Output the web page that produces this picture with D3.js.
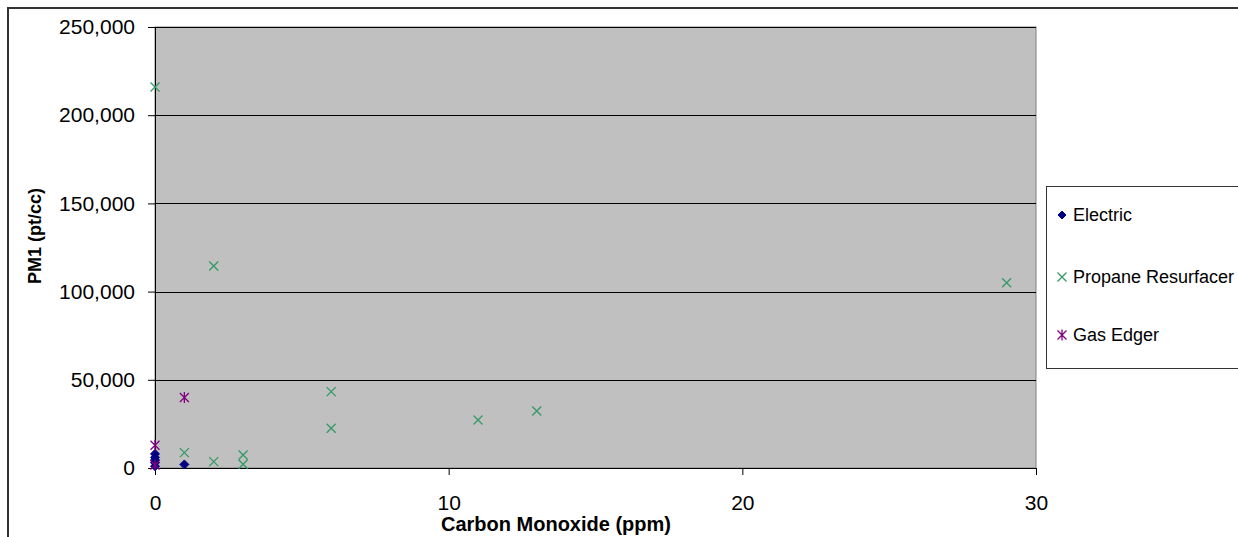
<!DOCTYPE html>
<html>
<head>
<meta charset="utf-8">
<script src="https://cdn.jsdelivr.net/npm/d3@7"></script>
<style>
  body { margin: 0; background: #fff; }
  text { font-family: "Liberation Sans", Arial, sans-serif; fill: #000; }
</style>
</head>
<body>
<div id="chart"></div>
<script>
// Data
var electricCO = [0, 0, 0, 0, 0, 1];
var electricPM = [8000, 6000, 4500, 3000, 1000, 2000];

var propaneCO = [0, 2, 29, 6, 6, 11, 13, 1, 2, 3, 3];
var propanePM = [216000, 114500, 105000, 43300, 22500, 27200, 32300, 8700, 3600, 7400, 2100];

var gasCO = [1, 0, 0];
var gasPM = [40000, 12900, 1700];

var seriesNames = ["Electric", "Propane Resurfacer", "Gas Edger"];
var xTicks = [0, 10, 20, 30];
var yTicks = [0, 50000, 100000, 150000, 200000, 250000];

var svgWidth = 1238;
var svgHeight = 537;

var plot = { left: 155, right: 1036, top: 27, bottom: 468 };

var svg = d3.select("#chart")
  .append("svg")
  .attr("width", svgWidth)
  .attr("height", svgHeight);

// outer chart area border
svg.append("rect")
  .attr("x", 8)
  .attr("y", 8)
  .attr("width", svgWidth + 20)
  .attr("height", svgHeight + 20)
  .attr("fill", "#fff")
  .attr("stroke", "#333")
  .attr("stroke-width", 2);

var xScale = d3.scaleLinear().domain([0, 30]).range([plot.left, plot.right]);
var yScale = d3.scaleLinear().domain([0, 250000]).range([plot.bottom, plot.top]);

// plot area
svg.append("rect")
  .attr("x", plot.left)
  .attr("y", plot.top)
  .attr("width", plot.right - plot.left)
  .attr("height", plot.bottom - plot.top)
  .attr("fill", "#c0c0c0")
  .attr("stroke", "#808080")
  .attr("stroke-width", 1);

// gridlines
svg.append("g")
  .selectAll("line")
  .data(yTicks.filter(d => d > 0))
  .enter()
  .append("line")
  .attr("x1", plot.left)
  .attr("x2", plot.right)
  .attr("y1", d => Math.round(yScale(d)) + 0.5)
  .attr("y2", d => Math.round(yScale(d)) + 0.5)
  .attr("stroke", "#000")
  .attr("stroke-width", 1);

// axes
var leftAxis = d3.axisLeft(yScale)
  .tickValues(yTicks)
  .tickFormat(d3.format(","))
  .tickSizeInner(7)
  .tickSizeOuter(0)
  .tickPadding(13);

var bottomAxis = d3.axisBottom(xScale)
  .tickValues(xTicks)
  .tickSizeInner(7)
  .tickSizeOuter(0)
  .tickPadding(20);

var yAxisG = svg.append("g")
  .attr("transform", `translate(${plot.left}, 0)`)
  .call(leftAxis);

var xAxisG = svg.append("g")
  .attr("transform", `translate(0, ${plot.bottom})`)
  .call(bottomAxis);

[yAxisG, xAxisG].forEach(function(g) {
  g.selectAll("path").attr("stroke", "#000");
  g.selectAll("line").attr("stroke", "#000");
  g.selectAll("text")
    .attr("font-family", "Liberation Sans, Arial, sans-serif")
    .attr("font-size", "21px")
    .attr("fill", "#000");
});

// marker shapes
function diamondPath(r) {
  return `M0,${-r}L${r},0L0,${r}L${-r},0Z`;
}
function xPath(r) {
  return `M${-r},${-r}L${r},${r}M${-r},${r}L${r},${-r}`;
}
function asteriskPath(r) {
  return xPath(r) + `M0,${-r - 1}L0,${r + 1}`;
}

function drawSeries(co, pm, path, color, filled) {
  var pts = co.map((c, i) => ({ x: c, y: pm[i] }));
  svg.append("g")
    .selectAll("path")
    .data(pts)
    .enter()
    .append("path")
    .attr("transform", d => `translate(${xScale(d.x)}, ${yScale(d.y)})`)
    .attr("d", path)
    .attr("fill", filled ? color : "none")
    .attr("stroke", color)
    .attr("stroke-width", filled ? 1 : 1.3);
}

var colors = ["#000080", "#339966", "#800080"];

drawSeries(electricCO, electricPM, diamondPath(4.5), colors[0], true);
drawSeries(propaneCO, propanePM, xPath(4.5), colors[1], false);
drawSeries(gasCO, gasPM, asteriskPath(4.5), colors[2], false);

// axis titles
svg.append("text")
  .attr("x", 556)
  .attr("y", 531)
  .attr("text-anchor", "middle")
  .attr("font-weight", "bold")
  .attr("font-size", "20px")
  .text("Carbon Monoxide (ppm)");

svg.append("text")
  .attr("transform", "translate(41, 236) rotate(-90)")
  .attr("text-anchor", "middle")
  .attr("font-weight", "bold")
  .attr("font-size", "18px")
  .text("PM1 (pt/cc)");

// legend
var legend = svg.append("g");
legend.append("rect")
  .attr("x", 1046.5)
  .attr("y", 186.5)
  .attr("width", 200)
  .attr("height", 182)
  .attr("fill", "#fff")
  .attr("stroke", "#333")
  .attr("stroke-width", 1);

var legendPaths = [diamondPath(4), xPath(4.5), asteriskPath(4.5)];
var legendY = [215, 277, 335];

seriesNames.forEach(function(name, i) {
  legend.append("path")
    .attr("transform", `translate(1062, ${legendY[i]})`)
    .attr("d", legendPaths[i])
    .attr("fill", i === 0 ? colors[i] : "none")
    .attr("stroke", colors[i])
    .attr("stroke-width", i === 0 ? 1 : 1.3);
  legend.append("text")
    .attr("x", 1073)
    .attr("y", legendY[i])
    .attr("dy", "0.35em")
    .attr("font-size", "18px")
    .text(name);
});
</script>
</body>
</html>
